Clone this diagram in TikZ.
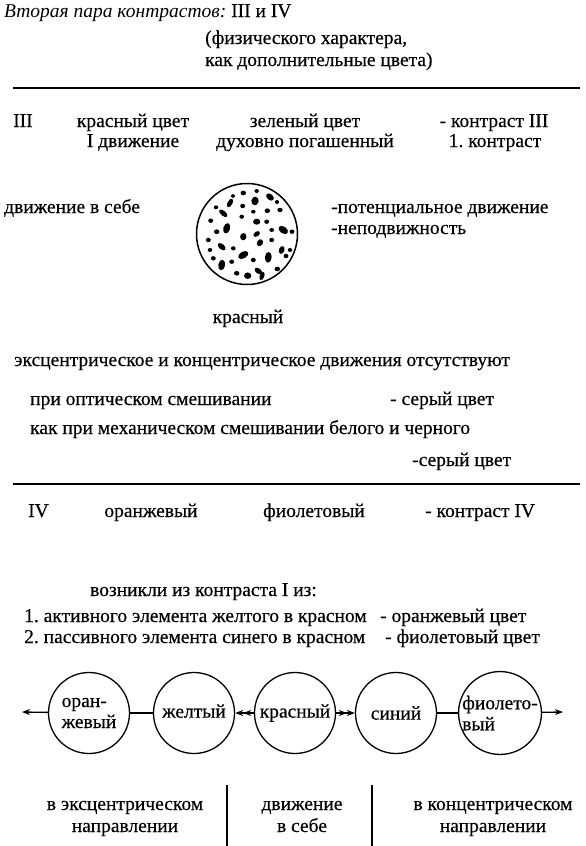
\documentclass[tikz,border=0pt]{standalone}
\usepackage{fontspec}
\setmainfont[UprightFeatures={FakeBold=0.4}]{Liberation Serif}
\usetikzlibrary{arrows.meta}
\frenchspacing
\begin{document}
\begin{tikzpicture}[x=1pt,y=-1pt,
    txt/.style={inner sep=0pt,anchor=base west,font=\fontsize{19.5}{22}\selectfont},
    ctxt/.style={txt,anchor=base},
    rule/.style={line width=1.8pt},
    ring/.style={circle,draw,line width=1.3pt,minimum size=81pt,inner sep=0pt,
      align=left,font=\fontsize{19.5}{21}\selectfont},
    >={Stealth[length=8pt,width=6pt]}]
   \useasboundingbox (0,0) rectangle (586,846);
   \node[txt] (titel) at (4,17) {\textit{Вторая пара контрастов:} III и IV};
   \node[txt] (fiz1) at (205,44) {(физического характера,};
   \node[txt] (fiz2) at (205,66) {как дополнительные цвета)};
   \coordinate (ra) at (13,88);
   \coordinate (rb) at (580,88);
   \draw[rule] (ra) -- (rb);
   \node[txt] (r3) at (13,127) {III};
   \foreach \n/\x/\y/\t in
     {krc/133/127/{красный цвет},
      zlc/305/127/{зеленый цвет},
      k3/494/127/{- контраст III},
      dv1/133/147/{I движение},
      dpg/305/147/{духовно погашенный},
      k1/495/147/{1. контраст}}
     \node[ctxt] (\n) at (\x,\y) {\t};
   \node[txt] (dvs) at (4,213) {движение в себе};
   \node[txt] (pot) at (331,213) {-потенциальное движение};
   \node[txt] (nep) at (331,234) {-неподвижность};
   \node[circle,draw,line width=1.5pt,minimum size=101pt,inner sep=0pt] (disc) at (247,234) {};
   \foreach \dx/\dy/\a/\b/\r in
     {-3.7/-41/2.1/1.8/0, 9.7/-43/1.7/1.5/0, 23/-37/3.4/2.3/-40, -17/-31/3.6/1.9/60,
      -4.3/-28/1.9/1.7/0, 8/-33/3.3/2.8/80, -31/-26.7/1.8/1.5/0, -23.7/-20.7/3.9/1.9/-40,
      -5.3/-17.3/1.8/1.6/0, 6.3/-22.3/1.7/1.5/0, 20.3/-23.3/2.1/1.8/0, 33/-24/2.1/1.7/0,
      19.7/-12.3/1.9/1.7/0, -36.3/-13.3/1.9/1.7/0, -20.3/-5.7/4.1/2.6/75, 9.7/-12.3/2.8/2.3/0,
      36.3/-4/4.1/2.6/-35, 45/-2.3/1.9/1.7/0, -30.3/-2.3/2.1/1.8/0, -3.7/2.7/2.8/2.4/80,
      9.7/0/2.8/1.8/35, 24.7/-4/1.8/1.5/0, 24.7/6/1.9/1.7/0, 13/8.7/2.8/2.2/60,
      -38.7/6/1.9/1.7/0, -25.3/12.7/3.6/2.1/-40, -13.7/14.3/1.8/1.6/0, -3.7/21/4.3/2.6/30,
      34.7/16/3.1/2.1/70, 43/16/1.8/1.5/0, -37/16/1.8/1.5/0, -33.7/24.3/1.9/1.7/0,
      6.3/26/1.9/1.7/0, 21.3/23.3/4.1/2.6/85, 39/22/1.9/1.7/0, -25.3/31/4.1/2.6/80,
      -15.3/27.7/1.9/1.7/0, -10.3/39.3/2.1/1.8/0, 0.7/41.7/2.8/2.5/0, 11.3/37/3.3/2/-35,
      15/42/3.3/1.8/70, 30.3/35/2.1/1.8/0, -14/-38/1.6/1.4/0, 30/-32/1.7/1.5/0}
     \fill[shift={(disc.center)},shift={(\dx,\dy)},rotate=\r,scale=1.3] (0,0) ellipse ({\a} and {\b});
   \node[ctxt] (krs) at (248,323) {красный};
   \node[txt] (eks) at (14,366) {эксцентрическое и концентрическое движения отсутствуют};
   \node[txt] (opt) at (30,405) {при оптическом смешивании};
   \node[txt] (ser1) at (390,405) {- серый цвет};
   \node[txt] (meh) at (30,434) {как при механическом смешивании белого и черного};
   \node[txt] (ser2) at (412,466) {-серый цвет};
   \coordinate (rc) at (13,484);
   \coordinate (rd) at (580,484);
   \draw[rule] (rc) -- (rd);
   \node[txt] (r4) at (28,517) {IV};
   \node[ctxt] (orn) at (151,517) {оранжевый};
   \node[ctxt] (fio) at (314,517) {фиолетовый};
   \node[txt] (k4) at (425,517) {- контраст IV};
   \node[txt] (voz) at (90,596) {возникли из контраста I из:};
   \node[txt] (akt) at (24,622) {1. активного элемента желтого в красном};
   \node[txt] (orc) at (380,622) {- оранжевый цвет};
   \node[txt] (pas) at (24,643) {2. пассивного элемента синего в красном};
   \node[txt] (fic) at (385,643) {- фиолетовый цвет};
   % circles
   \node[ring] (or) at (89,713) {оран-\\жевый};
   \node[ring] (ye) at (194,713) {\raisebox{4pt}{желтый}};
   \node[ring] (re) at (295,713) {красный};
   \node[ring] (bl) at (396,713) {синий};
   \node[ring] (vi) at (500,713) {фиолето-\\вый};
   \coordinate (lft) at (22,712);
   \coordinate (rgt) at (563,712);
   \draw[line width=1.3pt,->] (or) -- (lft);
   \draw[line width=1.3pt] (or) -- (ye);
   \draw[line width=1.3pt,<<-] (ye) -- (re);
   \draw[line width=1.3pt,->>] (re) -- (bl);
   \draw[line width=1.3pt] (bl) -- (vi);
   \draw[line width=1.3pt,->] (vi) -- (rgt);
   \foreach \n/\x/\y/\t in
     {ekn1/125/810/{в эксцентрическом},
      ekn2/125/832/{направлении},
      dvb1/302/810/{движение},
      dvb2/302/832/{в себе},
      kon1/493/810/{в концентрическом},
      kon2/493/832/{направлении}}
     \node[ctxt] (\n) at (\x,\y) {\t};
   \coordinate (d1a) at (227,785);
   \coordinate (d1b) at (227,846);
   \coordinate (d2a) at (372,785);
   \coordinate (d2b) at (372,846);
   \draw[line width=1.5pt] (d1a) -- (d1b);
   \draw[line width=1.5pt] (d2a) -- (d2b);
\end{tikzpicture}
\end{document}
